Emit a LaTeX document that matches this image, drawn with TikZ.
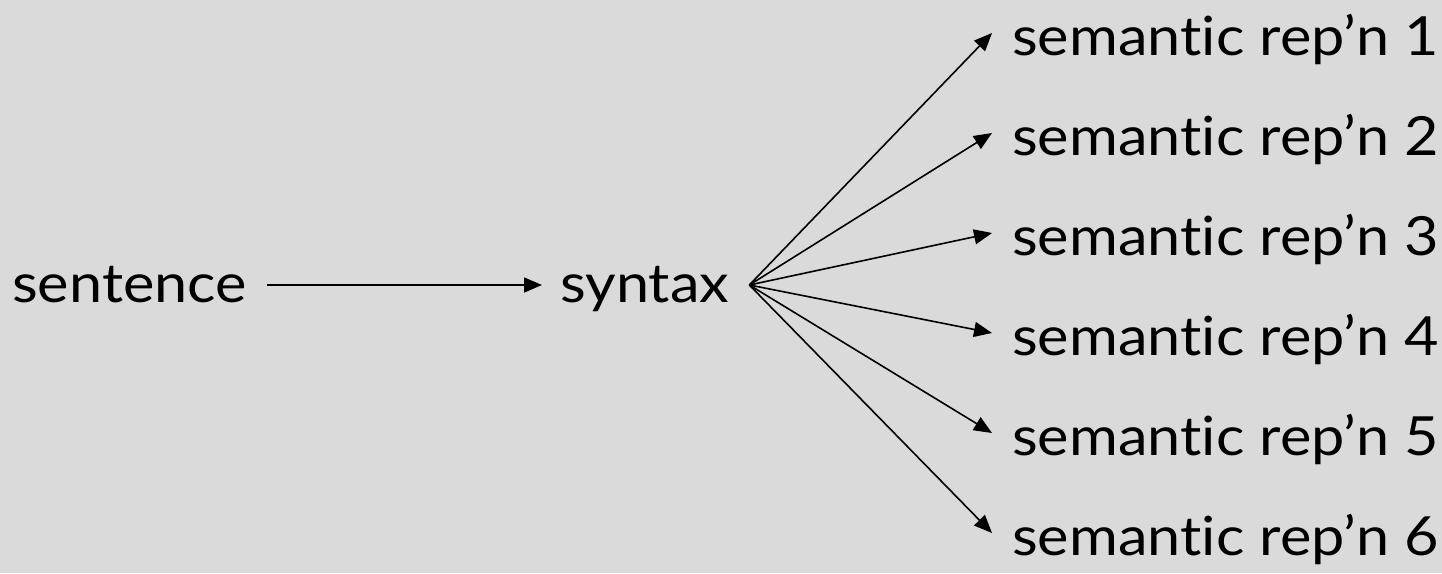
\documentclass[tikz,border=0pt]{standalone}
\usepackage{fontspec}
\setmainfont{Lato}[Ligatures={NoCommon,NoRare}]
\usetikzlibrary{arrows.meta}
\definecolor{bgc}{RGB}{218,218,218}
\newcommand{\wtxt}[1]{\scalebox{1.1}[1]{#1}}
\begin{document}
\begin{tikzpicture}[x=1pt,y=-1pt,
  lbl/.style={font=\fontsize{54}{60}\selectfont, inner sep=0pt, anchor=base west},
  arr/.style={-{Triangle[length=18pt,width=15pt]}, line width=1.6pt}]
\fill[bgc] (0,0) rectangle (1442,573);
\useasboundingbox (0,0) rectangle (1442,573);
\node[lbl] (sent) at (12,302) {\wtxt{sentence}};
\node[lbl] (syn) at (560,302) {\wtxt{syntax}};
\foreach \i in {1,...,6}{
  \node[lbl] (s\i) at (1012,{55+100*(\i-1)}) {\wtxt{semantic rep'n \i}};
}
\draw[arr] ([shift={(20pt,17pt)}]sent.base east) -- ([shift={(-18pt,17pt)}]syn.base west);
\coordinate (fan) at ([shift={(20pt,17pt)}]syn.base east);
\foreach \i in {1,...,6}{
  \draw[arr] (fan) -- ([shift={(-20pt,22pt)}]s\i.base west);
}
\end{tikzpicture}
\end{document}
